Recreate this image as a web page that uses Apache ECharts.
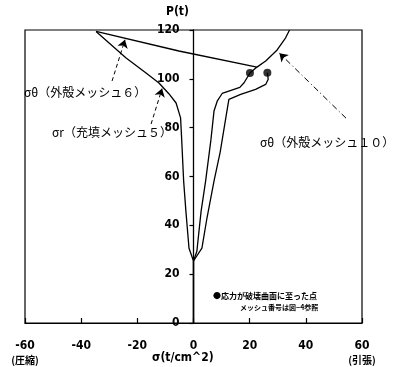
<!DOCTYPE html>
<html><head><meta charset="utf-8">
<script src="https://cdn.jsdelivr.net/npm/echarts@6/dist/echarts.min.js"></script>
<style>html,body{margin:0;padding:0;background:#fff}#c{width:393px;height:367px}</style>
</head><body><div id="c"></div>
<script>
// tick values
const xTicks = [-60, -40, -20, 0, 20, 40, 60];
const yTicks = [0, 20, 40, 60, 80, 100, 120];
const xEndLabels = {"-60": "(圧縮)", "60": "(引張)"};
// σr (充填メッシュ5)  [σ (t/cm^2), P (t)]
const sigmaR = [[0,0],[0,25.4],[-1.6,30.6],[-2.7,45.7],[-3.5,58],[-4.2,75],[-4.6,84],[-6.2,90.1],[-8.7,93.8],[-12.3,98.3],[-16.9,102.4],[-24,108.5],[-34.7,119.4]];
// σθ (外殻メッシュ6)
const sigmaTheta6 = [[0,0],[0,25.4],[1.2,29.4],[2.7,45.7],[4.3,58],[6.2,75],[7.3,86.8],[8.5,91],[10.2,94],[16.5,96.5],[18,98.4],[20.1,102.4],[22.6,104.8],[-5.2,111.4],[-34.7,119.4]];
// σθ (外殻メッシュ10)
const sigmaTheta10Lower = [[0,25.4],[3,30.7],[4.8,43],[7.3,58.1],[9.5,70],[11.9,86.8],[12.6,91.6],[16.8,93.6],[22.1,95.7],[25.7,97.7],[26.6,99.8],[26.3,102.5]];
const sigmaTheta10Upper = [[22.6,104.8],[25.7,107.3],[29.6,111.6],[32.8,116.8],[34.2,120]];
// 応力が破壊曲面に至った点
const yieldPoints = [[20.1,102.4],[26.3,102.5]];
// annotation arrows [from, to]
const arrows6 = [[-29,99.1],[-24.4,116]];
const arrowsR = [[-15.1,81.5],[-11.2,96]];
const arrows10 = [[54.3,83.9],[30.6,110.5]];

const NUM = 'DejaVu Sans Condensed';
const JP = 'Noto Sans CJK JP';
const GL = 25, GR = 31, W = 393;
// pixel distance from grid's left edge to x = 0
const zeroOffset = (W - GL - GR) * (0 - xTicks[0]) / (xTicks[xTicks.length-1] - xTicks[0]);
const lineStyle = {color:'#000', width:1.3};
const chart = echarts.init(document.getElementById('c'));
chart.setOption({
  animation:false,
  backgroundColor:'#fff',
  grid:{left:GL,right:GR,top:30,bottom:44,containLabel:false,outerBoundsMode:'none',show:true,borderColor:'#000',borderWidth:1.2,backgroundColor:'transparent'},
  xAxis:{type:'value',min:xTicks[0],max:xTicks[xTicks.length-1],interval:20,
    axisLine:{onZero:false,lineStyle:{color:'#000',width:1.2}},
    axisTick:{inside:true,length:5,lineStyle:{color:'#000',width:1.2}},
    splitLine:{show:false},
    axisLabel:{margin:16,color:'#000',showMinLabel:true,showMaxLabel:true,hideOverlap:false,
      formatter:v=>{const s=String(v); return xEndLabels[s]?'{a|'+s+'}\n{b|'+xEndLabels[s]+'}':'{a|'+s+'}';},
      rich:{a:{fontFamily:NUM,fontWeight:'bold',fontSize:12,color:'#000',lineHeight:14},
            b:{fontFamily:JP,fontWeight:'bold',fontSize:10,color:'#000',lineHeight:14}}}},
  yAxis:{type:'value',position:'left',offset:-zeroOffset,min:yTicks[0],max:yTicks[yTicks.length-1],interval:20,
    axisLine:{onZero:false,lineStyle:{color:'#000',width:1.3}},
    axisTick:{inside:false,length:4,lineStyle:{color:'#000',width:1.2}},
    splitLine:{show:false},
    axisLabel:{margin:14,color:'#000',fontFamily:NUM,fontWeight:'bold',fontSize:12}},
  series:[
    {type:'line',data:sigmaR,symbol:'none',lineStyle:lineStyle,silent:true,
      markLine:{silent:true,symbol:['none','arrow'],symbolSize:8,label:{show:false},
        lineStyle:{color:'#000',width:1,type:[4,3]},
        data:[[{coord:arrows6[0]},{coord:arrows6[1]}],[{coord:arrowsR[0]},{coord:arrowsR[1]}]]}},
    {type:'line',data:sigmaTheta6,symbol:'none',lineStyle:lineStyle,silent:true},
    {type:'line',data:sigmaTheta10Lower,symbol:'none',lineStyle:lineStyle,silent:true,
      markLine:{silent:true,symbol:['none','arrow'],symbolSize:8,label:{show:false},
        lineStyle:{color:'#000',width:1,type:[6,3,1,3]},
        data:[[{coord:arrows10[0]},{coord:arrows10[1]}]]}},
    {type:'line',data:sigmaTheta10Upper,symbol:'none',lineStyle:lineStyle,silent:true},
    {type:'scatter',data:yieldPoints,symbol:'circle',symbolSize:8,itemStyle:{color:'#000'},silent:true}
  ],
  graphic:[
    {type:'text',x:166,y:12,style:{text:'P(t)',fontFamily:NUM,fontWeight:'bold',fontSize:12,fill:'#000',verticalAlign:'middle'}},
    {type:'text',x:24,y:92,style:{text:'σθ（外殻メッシュ６）',fontFamily:JP,fontSize:12,fill:'#000',verticalAlign:'middle'}},
    {type:'text',x:52,y:132,style:{text:'σr（充填メッシュ５）',fontFamily:JP,fontSize:12,fill:'#000',verticalAlign:'middle'}},
    {type:'text',x:260,y:142,style:{text:'σθ（外殻メッシュ１０）',fontFamily:JP,fontSize:12,fill:'#000',verticalAlign:'middle'}},
    {type:'text',x:152,y:358,style:{text:'σ(t/cm^2)',fontFamily:NUM,fontWeight:'bold',fontSize:12,fill:'#000',verticalAlign:'middle'}},
    {type:'text',x:213,y:296,style:{text:'●応力が破壊曲面に至った点',fontFamily:JP,fontWeight:'bold',fontSize:8,fill:'#000',verticalAlign:'middle'}},
    {type:'text',x:240,y:307,style:{text:'メッシュ番号は図−4参照',fontFamily:JP,fontWeight:'bold',fontSize:7,fill:'#000',verticalAlign:'middle'}}
  ]
});
</script></body></html>
